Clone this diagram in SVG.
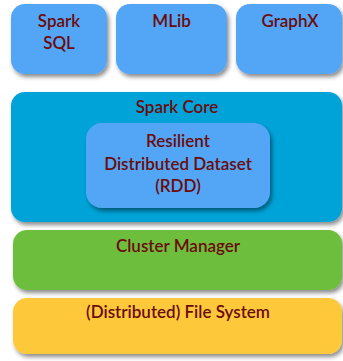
<svg xmlns="http://www.w3.org/2000/svg" width="343" height="361" viewBox="0 0 343 361">
<defs>
<filter id="sh" x="-10%" y="-10%" width="130%" height="140%">
<feDropShadow dx="2" dy="3" stdDeviation="2" flood-color="#000" flood-opacity="0.45"/>
</filter>
</defs>
<style>
.t{font-family:Lato,"Open Sans","Liberation Sans",sans-serif;font-size:17px;fill:#6b0b0b;text-anchor:middle;font-weight:600}
.lb{fill:#53a6f5}
.core{fill:#00a3d8}
.gr{fill:#6dbe3e}
.ye{fill:#fdc93b}
</style>
<rect width="343" height="361" fill="#ffffff"/>
<g id="spark-sql">
<rect class="lb" x="11" y="4" width="96" height="70" rx="14" filter="url(#sh)"/>
<text class="t" x="59" y="27">Spark</text>
<text class="t" x="59" y="49">SQL</text>
</g>
<g id="mlib">
<rect class="lb" x="116" y="4" width="111" height="70" rx="14" filter="url(#sh)"/>
<text class="t" x="171.5" y="27">MLib</text>
</g>
<g id="graphx">
<rect class="lb" x="236" y="4" width="106" height="70" rx="14" filter="url(#sh)"/>
<text class="t" x="290" y="27">GraphX</text>
</g>
<g id="spark-core">
<rect class="core" x="11" y="92" width="331" height="130" rx="14" filter="url(#sh)"/>
<text class="t" x="177" y="113">Spark Core</text>
</g>
<g id="rdd">
<rect class="lb" x="86" y="123" width="184" height="85" rx="16" filter="url(#sh)"/>
<text class="t" x="178" y="147">Resilient</text>
<text class="t" x="178" y="170">Distributed Dataset</text>
<text class="t" x="178" y="192">(RDD)</text>
</g>
<g id="cluster-manager">
<rect class="gr" x="13" y="230" width="329" height="60" rx="14" filter="url(#sh)"/>
<text class="t" x="178" y="252">Cluster Manager</text>
</g>
<g id="file-system">
<rect class="ye" x="13" y="298" width="329" height="56" rx="14" filter="url(#sh)"/>
<text class="t" x="178" y="318">(Distributed) File System</text>
</g>
<g id="connectors"/>
</svg>
